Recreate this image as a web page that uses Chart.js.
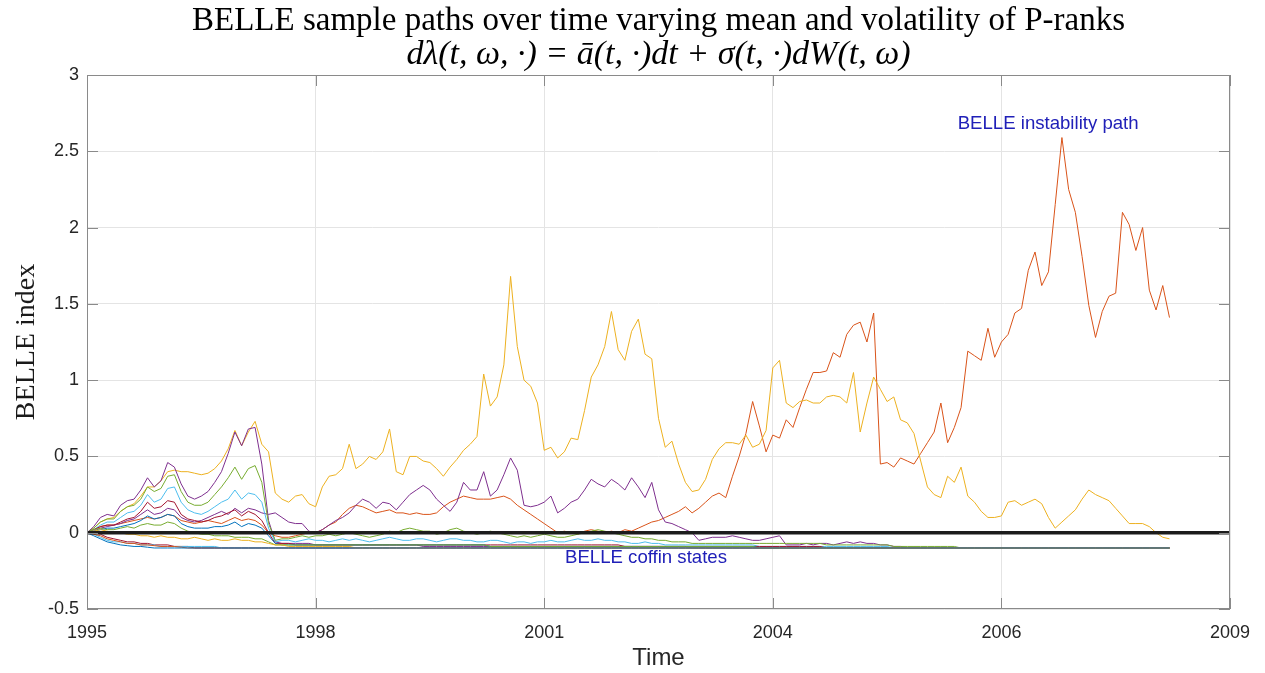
<!DOCTYPE html>
<html>
<head>
<meta charset="utf-8">
<script src="https://cdn.jsdelivr.net/npm/chart.js@4.4.0/dist/chart.umd.min.js"></script>
<style>
html,body{margin:0;padding:0;background:#fff;}
#wrap{width:1265px;height:673px;position:relative;}
</style>
</head>
<body>
<div id="wrap"><canvas id="c"></canvas></div>
<script>
// ---------- data ----------
const tickLabels = ['1995','1998','2001','2004','2006','2009'];
const axisMonths = 170;            // span of the time axis, in monthly steps
const yMin = -0.5, yMax = 3, yStep = 0.5;

const chartTitle = 'BELLE sample paths over time varying mean and volatility of P-ranks';
const chartFormula = 'd\u03BB(t, \u03C9, \u00B7) = \u0101(t, \u00B7)dt + \u03C3(t, \u00B7)dW(t, \u03C9)';
const xTitle = 'Time';
const yTitle = 'BELLE index';

// monthly sample paths (index 0..161)
const coffinBlue = [
0,-0.02,-0.04,-0.06,-0.07,-0.08,-0.085,-0.09,-0.09,-0.095,
-0.1,-0.1,-0.1,-0.1,-0.1,-0.1,-0.1,-0.1,-0.1,-0.1,
-0.1,-0.1,-0.1,-0.1,-0.1,-0.1,-0.1,-0.1,-0.1,-0.1,
-0.1,-0.1,-0.1,-0.1,-0.1,-0.1,-0.1,-0.1,-0.1,-0.1,
-0.1,-0.1,-0.1,-0.1,-0.1,-0.1,-0.1,-0.1,-0.1,-0.1,
-0.1,-0.1,-0.1,-0.1,-0.1,-0.1,-0.1,-0.1,-0.1,-0.1,
-0.1,-0.1,-0.1,-0.1,-0.1,-0.1,-0.1,-0.1,-0.1,-0.1,
-0.1,-0.1,-0.1,-0.1,-0.1,-0.1,-0.1,-0.1,-0.1,-0.1,
-0.1,-0.1,-0.1,-0.1,-0.1,-0.1,-0.1,-0.1,-0.1,-0.1,
-0.1,-0.1,-0.1,-0.1,-0.1,-0.1,-0.1,-0.1,-0.1,-0.1,
-0.1,-0.1,-0.1,-0.1,-0.1,-0.1,-0.1,-0.1,-0.1,-0.1,
-0.1,-0.1,-0.1,-0.1,-0.1,-0.1,-0.1,-0.1,-0.1,-0.1,
-0.1,-0.1,-0.1,-0.1,-0.1,-0.1,-0.1,-0.1,-0.1,-0.1,
-0.1,-0.1,-0.1,-0.1,-0.1,-0.1,-0.1,-0.1,-0.1,-0.1,
-0.1,-0.1,-0.1,-0.1,-0.1,-0.1,-0.1,-0.1,-0.1,-0.1,
-0.1,-0.1,-0.1,-0.1,-0.1,-0.1,-0.1,-0.1,-0.1,-0.1,
-0.1,-0.1];

const coffinOrange = [
0,-0.01,-0.02,-0.04,-0.05,-0.06,-0.07,-0.07,-0.08,-0.08,
-0.085,-0.09,-0.09,-0.09,-0.095,-0.1,-0.1,-0.1,-0.1,-0.1,
-0.1,-0.1,-0.1,-0.1,-0.1,-0.1,-0.1,-0.1,-0.1,-0.1,
-0.1,-0.1,-0.1,-0.1,-0.1,-0.1,-0.1,-0.1,-0.1,-0.1,
-0.1,-0.1,-0.1,-0.1,-0.1,-0.1,-0.1,-0.1,-0.1,-0.1,
-0.1,-0.1,-0.1,-0.1,-0.1,-0.1,-0.1,-0.1,-0.1,-0.1,
-0.1,-0.1,-0.1,-0.1,-0.1,-0.1,-0.1,-0.1,-0.1,-0.1,
-0.1,-0.1,-0.1,-0.1,-0.1,-0.1,-0.1,-0.1,-0.1,-0.1,
-0.1,-0.1,-0.1,-0.1,-0.1,-0.1,-0.1,-0.1,-0.1,-0.1,
-0.1,-0.1,-0.1,-0.1,-0.1,-0.1,-0.1,-0.1,-0.1,-0.1,
-0.1,-0.1,-0.1,-0.1,-0.1,-0.1,-0.1,-0.1,-0.1,-0.1,
-0.1,-0.1,-0.1,-0.1,-0.1,-0.1,-0.1,-0.1,-0.1,-0.1,
-0.1,-0.1,-0.1,-0.1,-0.1,-0.1,-0.1,-0.1,-0.1,-0.1,
-0.1,-0.1,-0.1,-0.1,-0.1,-0.1,-0.1,-0.1,-0.1,-0.1,
-0.1,-0.1,-0.1,-0.1,-0.1,-0.1,-0.1,-0.1,-0.1,-0.1,
-0.1,-0.1,-0.1,-0.1,-0.1,-0.1,-0.1,-0.1,-0.1,-0.1,
-0.1,-0.1];

const coffinYellow = [
0,0.01,0.02,0.01,0,0,-0.01,-0.01,-0.02,-0.02,
-0.03,-0.02,-0.03,-0.03,-0.04,-0.04,-0.03,-0.04,-0.05,-0.04,
-0.05,-0.05,-0.04,-0.05,-0.05,-0.06,-0.06,-0.07,-0.08,-0.08,
-0.09,-0.09,-0.09,-0.09,-0.09,-0.09,-0.09,-0.09,-0.09,-0.09,
-0.1,-0.1,-0.1,-0.1,-0.1,-0.1,-0.1,-0.1,-0.1,-0.1,
-0.1,-0.1,-0.1,-0.1,-0.1,-0.1,-0.1,-0.1,-0.1,-0.1,
-0.1,-0.1,-0.1,-0.1,-0.1,-0.1,-0.1,-0.1,-0.1,-0.1,
-0.1,-0.1,-0.1,-0.1,-0.1,-0.1,-0.1,-0.1,-0.1,-0.1,
-0.1,-0.1,-0.1,-0.1,-0.1,-0.1,-0.1,-0.1,-0.1,-0.1,
-0.1,-0.1,-0.1,-0.1,-0.1,-0.1,-0.1,-0.1,-0.1,-0.1,
-0.1,-0.1,-0.1,-0.1,-0.1,-0.1,-0.1,-0.1,-0.1,-0.1,
-0.1,-0.1,-0.1,-0.1,-0.1,-0.1,-0.1,-0.1,-0.1,-0.1,
-0.1,-0.1,-0.1,-0.1,-0.1,-0.1,-0.1,-0.1,-0.1,-0.1,
-0.1,-0.1,-0.1,-0.1,-0.1,-0.1,-0.1,-0.1,-0.1,-0.1,
-0.1,-0.1,-0.1,-0.1,-0.1,-0.1,-0.1,-0.1,-0.1,-0.1,
-0.1,-0.1,-0.1,-0.1,-0.1,-0.1,-0.1,-0.1,-0.1,-0.1,
-0.1,-0.1];

const coffinGreen = [
0,0.02,0.03,0.02,0.02,0.03,0.04,0.03,0.05,0.06,
0.05,0.05,0.07,0.06,0.03,0.01,0,-0.01,-0.01,-0.02,
-0.02,-0.02,-0.03,-0.03,-0.03,-0.04,-0.04,-0.06,-0.08,-0.08,
-0.08,-0.08,-0.08,-0.08,-0.08,-0.08,-0.08,-0.08,-0.08,-0.08,
-0.08,-0.08,-0.08,-0.08,-0.08,-0.08,-0.08,-0.08,-0.08,-0.08,
-0.08,-0.08,-0.08,-0.08,-0.08,-0.08,-0.08,-0.08,-0.08,-0.08,
-0.09,-0.09,-0.09,-0.09,-0.09,-0.09,-0.09,-0.09,-0.09,-0.09,
-0.09,-0.09,-0.09,-0.09,-0.09,-0.09,-0.09,-0.09,-0.09,-0.09,
-0.09,-0.09,-0.09,-0.09,-0.09,-0.09,-0.09,-0.09,-0.09,-0.09,
-0.09,-0.09,-0.09,-0.09,-0.09,-0.09,-0.09,-0.09,-0.09,-0.09,
-0.1,-0.1,-0.1,-0.1,-0.1,-0.1,-0.1,-0.1,-0.1,-0.1,
-0.1,-0.1,-0.1,-0.1,-0.1,-0.1,-0.1,-0.1,-0.1,-0.1,
-0.1,-0.1,-0.1,-0.1,-0.1,-0.1,-0.1,-0.1,-0.1,-0.1,
-0.1,-0.1,-0.1,-0.1,-0.1,-0.1,-0.1,-0.1,-0.1,-0.1,
-0.1,-0.1,-0.1,-0.1,-0.1,-0.1,-0.1,-0.1,-0.1,-0.1,
-0.1,-0.1,-0.1,-0.1,-0.1,-0.1,-0.1,-0.1,-0.1,-0.1,
-0.1,-0.1];

const coffinCyan = [
0,-0.01,-0.03,-0.05,-0.06,-0.06,-0.07,-0.07,-0.08,-0.08,
-0.08,-0.09,-0.09,-0.09,-0.09,-0.09,-0.09,-0.09,-0.09,-0.09,
-0.1,-0.1,-0.1,-0.1,-0.1,-0.1,-0.1,-0.1,-0.1,-0.1,
-0.1,-0.1,-0.1,-0.1,-0.1,-0.1,-0.1,-0.1,-0.1,-0.1,
-0.1,-0.1,-0.1,-0.1,-0.1,-0.1,-0.1,-0.1,-0.1,-0.1,
-0.1,-0.1,-0.1,-0.1,-0.1,-0.1,-0.1,-0.1,-0.1,-0.1,
-0.1,-0.1,-0.1,-0.1,-0.1,-0.1,-0.1,-0.1,-0.1,-0.1,
-0.1,-0.1,-0.1,-0.1,-0.1,-0.1,-0.1,-0.1,-0.1,-0.1,
-0.1,-0.1,-0.1,-0.1,-0.1,-0.1,-0.1,-0.1,-0.1,-0.1,
-0.1,-0.1,-0.1,-0.1,-0.1,-0.1,-0.1,-0.1,-0.1,-0.1,
-0.1,-0.1,-0.1,-0.1,-0.1,-0.1,-0.1,-0.1,-0.1,-0.1,
-0.1,-0.1,-0.1,-0.1,-0.1,-0.1,-0.1,-0.1,-0.1,-0.1,
-0.1,-0.1,-0.1,-0.1,-0.1,-0.1,-0.1,-0.1,-0.1,-0.1,
-0.1,-0.1,-0.1,-0.1,-0.1,-0.1,-0.1,-0.1,-0.1,-0.1,
-0.1,-0.1,-0.1,-0.1,-0.1,-0.1,-0.1,-0.1,-0.1,-0.1,
-0.1,-0.1,-0.1,-0.1,-0.1,-0.1,-0.1,-0.1,-0.1,-0.1,
-0.1,-0.1];

const coffinDarkRed = [
0,0,-0.01,-0.03,-0.04,-0.05,-0.06,-0.06,-0.07,-0.07,
-0.08,-0.08,-0.08,-0.09,-0.09,-0.09,-0.1,-0.1,-0.1,-0.1,
-0.1,-0.1,-0.1,-0.1,-0.1,-0.1,-0.1,-0.1,-0.1,-0.1,
-0.1,-0.1,-0.1,-0.1,-0.1,-0.1,-0.1,-0.1,-0.1,-0.1,
-0.1,-0.1,-0.1,-0.1,-0.1,-0.1,-0.1,-0.1,-0.1,-0.1,
-0.1,-0.1,-0.1,-0.1,-0.1,-0.1,-0.1,-0.1,-0.1,-0.1,
-0.1,-0.1,-0.1,-0.1,-0.1,-0.1,-0.1,-0.1,-0.1,-0.1,
-0.1,-0.1,-0.1,-0.1,-0.1,-0.1,-0.1,-0.1,-0.1,-0.1,
-0.1,-0.1,-0.1,-0.1,-0.1,-0.1,-0.1,-0.1,-0.1,-0.1,
-0.1,-0.1,-0.1,-0.1,-0.1,-0.1,-0.1,-0.1,-0.1,-0.1,
-0.1,-0.1,-0.1,-0.1,-0.1,-0.1,-0.1,-0.1,-0.1,-0.1,
-0.1,-0.1,-0.1,-0.1,-0.1,-0.1,-0.1,-0.1,-0.1,-0.1,
-0.1,-0.1,-0.1,-0.1,-0.1,-0.1,-0.1,-0.1,-0.1,-0.1,
-0.1,-0.1,-0.1,-0.1,-0.1,-0.1,-0.1,-0.1,-0.1,-0.1,
-0.1,-0.1,-0.1,-0.1,-0.1,-0.1,-0.1,-0.1,-0.1,-0.1,
-0.1,-0.1,-0.1,-0.1,-0.1,-0.1,-0.1,-0.1,-0.1,-0.1,
-0.1,-0.1];

const pathBlue = [
0,0.01,0.02,0.03,0.03,0.04,0.05,0.06,0.08,0.11,
0.09,0.1,0.12,0.11,0.06,0.04,0.03,0.03,0.03,0.04,
0.04,0.05,0.07,0.04,0.06,0.05,0.03,-0.02,-0.07,-0.08,
-0.08,-0.08,-0.08,-0.08,-0.08,-0.08,-0.08,-0.08,-0.08,-0.08,
-0.08,-0.08,-0.08,-0.08,-0.08,-0.08,-0.08,-0.08,-0.08,-0.08,
-0.08,-0.08,-0.08,-0.08,-0.08,-0.08,-0.08,-0.08,-0.08,-0.08,
-0.09,-0.09,-0.09,-0.09,-0.09,-0.09,-0.09,-0.09,-0.09,-0.09,
-0.09,-0.09,-0.09,-0.09,-0.09,-0.09,-0.09,-0.09,-0.09,-0.09,
-0.09,-0.09,-0.09,-0.09,-0.09,-0.09,-0.09,-0.09,-0.09,-0.09,
-0.09,-0.09,-0.09,-0.09,-0.09,-0.09,-0.09,-0.09,-0.09,-0.09,
-0.1,-0.1,-0.1,-0.1,-0.1,-0.1,-0.1,-0.1,-0.1,-0.1,
-0.1,-0.1,-0.1,-0.1,-0.1,-0.1,-0.1,-0.1,-0.1,-0.1,
-0.1,-0.1,-0.1,-0.1,-0.1,-0.1,-0.1,-0.1,-0.1,-0.1,
-0.1,-0.1,-0.1,-0.1,-0.1,-0.1,-0.1,-0.1,-0.1,-0.1,
-0.1,-0.1,-0.1,-0.1,-0.1,-0.1,-0.1,-0.1,-0.1,-0.1,
-0.1,-0.1,-0.1,-0.1,-0.1,-0.1,-0.1,-0.1,-0.1,-0.1,
-0.1,-0.1];

const pathDarkRed = [
0,0.02,0.04,0.05,0.05,0.07,0.09,0.1,0.14,0.2,
0.16,0.17,0.21,0.2,0.12,0.09,0.08,0.07,0.08,0.1,
0.11,0.13,0.15,0.11,0.14,0.12,0.08,0,-0.07,-0.07,
-0.07,-0.08,-0.08,-0.08,-0.08,-0.08,-0.08,-0.08,-0.08,-0.08,
-0.08,-0.08,-0.08,-0.08,-0.08,-0.08,-0.08,-0.08,-0.08,-0.08,
-0.08,-0.08,-0.08,-0.08,-0.08,-0.08,-0.08,-0.08,-0.08,-0.08,
-0.08,-0.08,-0.08,-0.08,-0.08,-0.08,-0.08,-0.08,-0.08,-0.08,
-0.08,-0.08,-0.08,-0.08,-0.08,-0.08,-0.08,-0.08,-0.08,-0.08,
-0.09,-0.09,-0.09,-0.09,-0.09,-0.09,-0.09,-0.09,-0.09,-0.09,
-0.09,-0.09,-0.09,-0.09,-0.09,-0.09,-0.09,-0.09,-0.09,-0.09,
-0.09,-0.09,-0.09,-0.09,-0.09,-0.09,-0.09,-0.09,-0.09,-0.09,
-0.1,-0.1,-0.1,-0.1,-0.1,-0.1,-0.1,-0.1,-0.1,-0.1,
-0.1,-0.1,-0.1,-0.1,-0.1,-0.1,-0.1,-0.1,-0.1,-0.1,
-0.1,-0.1,-0.1,-0.1,-0.1,-0.1,-0.1,-0.1,-0.1,-0.1,
-0.1,-0.1,-0.1,-0.1,-0.1,-0.1,-0.1,-0.1,-0.1,-0.1,
-0.1,-0.1,-0.1,-0.1,-0.1,-0.1,-0.1,-0.1,-0.1,-0.1,
-0.1,-0.1];

const pathCyan = [
0,0.02,0.05,0.07,0.07,0.1,0.13,0.14,0.18,0.25,
0.2,0.22,0.29,0.3,0.2,0.15,0.13,0.12,0.14,0.17,
0.2,0.22,0.28,0.22,0.26,0.25,0.2,0.03,-0.06,-0.05,
-0.05,-0.06,-0.05,-0.04,-0.05,-0.05,-0.06,-0.05,-0.04,-0.05,
-0.04,-0.05,-0.06,-0.05,-0.04,-0.03,-0.04,-0.05,-0.05,-0.04,
-0.04,-0.05,-0.06,-0.05,-0.04,-0.04,-0.05,-0.05,-0.06,-0.06,
-0.05,-0.05,-0.06,-0.07,-0.06,-0.06,-0.07,-0.06,-0.06,-0.05,
-0.06,-0.06,-0.05,-0.04,-0.05,-0.05,-0.04,-0.05,-0.05,-0.06,
-0.06,-0.07,-0.07,-0.06,-0.07,-0.07,-0.08,-0.08,-0.08,-0.08,
-0.08,-0.08,-0.08,-0.08,-0.08,-0.08,-0.08,-0.08,-0.08,-0.08,
-0.09,-0.09,-0.09,-0.09,-0.09,-0.09,-0.09,-0.09,-0.09,-0.09,
-0.09,-0.09,-0.09,-0.09,-0.09,-0.09,-0.09,-0.09,-0.09,-0.09,
-0.1,-0.1,-0.1,-0.1,-0.1,-0.1,-0.1,-0.1,-0.1,-0.1,
-0.1,-0.1,-0.1,-0.1,-0.1,-0.1,-0.1,-0.1,-0.1,-0.1,
-0.1,-0.1,-0.1,-0.1,-0.1,-0.1,-0.1,-0.1,-0.1,-0.1,
-0.1,-0.1,-0.1,-0.1,-0.1,-0.1,-0.1,-0.1,-0.1,-0.1,
-0.1,-0.1];

const pathGreen = [
0,0.03,0.07,0.09,0.09,0.14,0.17,0.18,0.22,0.3,
0.27,0.29,0.37,0.38,0.27,0.2,0.18,0.18,0.2,0.25,
0.3,0.36,0.43,0.35,0.42,0.44,0.33,0.06,-0.05,-0.04,
-0.04,-0.03,-0.02,-0.03,-0.02,-0.02,-0.01,-0.02,-0.01,0,
-0.01,-0.02,-0.03,-0.02,-0.01,0.01,0,0.02,0.03,0.02,
0.01,0.01,-0.01,0,0.02,0.03,0.01,0,-0.01,0,
0.01,0,-0.01,-0.02,-0.03,-0.02,-0.03,-0.02,-0.01,-0.02,
-0.03,-0.03,-0.02,-0.01,0,0.01,0.02,0.01,0,-0.01,
-0.02,-0.03,-0.03,-0.04,-0.04,-0.05,-0.05,-0.06,-0.06,-0.06,
-0.07,-0.07,-0.07,-0.07,-0.07,-0.07,-0.07,-0.07,-0.07,-0.07,
-0.07,-0.07,-0.07,-0.07,-0.07,-0.07,-0.07,-0.07,-0.07,-0.07,
-0.08,-0.08,-0.08,-0.08,-0.08,-0.08,-0.08,-0.08,-0.08,-0.08,
-0.09,-0.09,-0.09,-0.09,-0.09,-0.09,-0.09,-0.09,-0.09,-0.09,
-0.1,-0.1,-0.1,-0.1,-0.1,-0.1,-0.1,-0.1,-0.1,-0.1,
-0.1,-0.1,-0.1,-0.1,-0.1,-0.1,-0.1,-0.1,-0.1,-0.1,
-0.1,-0.1,-0.1,-0.1,-0.1,-0.1,-0.1,-0.1,-0.1,-0.1,
-0.1,-0.1];

const pathPurple = [
0,0.04,0.1,0.12,0.11,0.18,0.21,0.22,0.28,0.36,
0.3,0.34,0.46,0.43,0.32,0.24,0.22,0.24,0.27,0.33,
0.4,0.52,0.66,0.57,0.68,0.69,0.45,0.08,-0.06,-0.07,
-0.07,-0.07,-0.07,-0.07,-0.08,-0.08,-0.08,-0.08,-0.08,-0.08,
-0.08,-0.08,-0.08,-0.08,-0.08,-0.08,-0.08,-0.08,-0.08,-0.08,
-0.09,-0.09,-0.09,-0.09,-0.09,-0.09,-0.09,-0.09,-0.09,-0.09,
-0.09,-0.09,-0.09,-0.09,-0.09,-0.09,-0.09,-0.09,-0.09,-0.09,
-0.09,-0.09,-0.09,-0.09,-0.09,-0.09,-0.09,-0.09,-0.09,-0.09,
-0.09,-0.09,-0.09,-0.09,-0.09,-0.09,-0.09,-0.09,-0.09,-0.09,
-0.1,-0.1,-0.1,-0.1,-0.1,-0.1,-0.1,-0.1,-0.1,-0.1,
-0.1,-0.1,-0.1,-0.1,-0.1,-0.1,-0.1,-0.1,-0.1,-0.1,
-0.1,-0.1,-0.1,-0.1,-0.1,-0.1,-0.1,-0.1,-0.1,-0.1,
-0.1,-0.1,-0.1,-0.1,-0.1,-0.1,-0.1,-0.1,-0.1,-0.1,
-0.1,-0.1,-0.1,-0.1,-0.1,-0.1,-0.1,-0.1,-0.1,-0.1,
-0.1,-0.1,-0.1,-0.1,-0.1,-0.1,-0.1,-0.1,-0.1,-0.1,
-0.1,-0.1,-0.1,-0.1,-0.1,-0.1,-0.1,-0.1,-0.1,-0.1,
-0.1,-0.1];

const pathViolet = [
0,0.01,0.03,0.04,0.05,0.06,0.08,0.09,0.12,0.15,
0.12,0.13,0.16,0.15,0.1,0.08,0.07,0.08,0.1,0.12,
0.14,0.12,0.16,0.13,0.16,0.15,0.13,0.12,0.13,0.1,
0.07,0.06,0.06,0.01,0,0.02,0.05,0.08,0.1,0.13,
0.18,0.22,0.2,0.16,0.2,0.19,0.15,0.2,0.25,0.28,
0.31,0.28,0.22,0.18,0.14,0.2,0.33,0.28,0.28,0.4,
0.24,0.28,0.38,0.49,0.41,0.18,0.17,0.18,0.2,0.24,
0.13,0.16,0.2,0.22,0.28,0.35,0.32,0.3,0.35,0.32,
0.28,0.36,0.3,0.23,0.33,0.15,0.07,0.06,0.04,0.02,
0,-0.05,-0.04,-0.03,-0.03,-0.03,-0.02,-0.03,-0.04,-0.05,
-0.05,-0.04,-0.03,-0.02,-0.08,-0.08,-0.08,-0.07,-0.08,-0.07,
-0.07,-0.08,-0.07,-0.06,-0.07,-0.06,-0.07,-0.07,-0.08,-0.08,
-0.09,-0.09,-0.1,-0.1,-0.1,-0.1,-0.1,-0.1,-0.1,-0.1,
-0.1,-0.1,-0.1,-0.1,-0.1,-0.1,-0.1,-0.1,-0.1,-0.1,
-0.1,-0.1,-0.1,-0.1,-0.1,-0.1,-0.1,-0.1,-0.1,-0.1,
-0.1,-0.1,-0.1,-0.1,-0.1,-0.1,-0.1,-0.1,-0.1,-0.1,
-0.1,-0.1];

const yellowPath = [
0,0.03,0.07,0.09,0.1,0.14,0.17,0.19,0.24,0.3,
0.3,0.34,0.4,0.41,0.4,0.4,0.39,0.38,0.39,0.42,
0.47,0.55,0.67,0.57,0.66,0.73,0.58,0.53,0.26,0.22,
0.2,0.24,0.25,0.19,0.17,0.3,0.37,0.38,0.42,0.58,
0.42,0.45,0.5,0.48,0.53,0.68,0.4,0.38,0.5,0.5,
0.47,0.46,0.42,0.37,0.43,0.48,0.54,0.58,0.63,1.04,
0.83,0.89,1.1,1.68,1.22,1.0,0.96,0.85,0.54,0.56,
0.49,0.53,0.62,0.61,0.8,1.02,1.1,1.22,1.45,1.2,
1.13,1.32,1.4,1.17,1.14,0.75,0.56,0.6,0.45,0.33,
0.27,0.28,0.35,0.48,0.55,0.59,0.59,0.58,0.64,0.56,
0.58,0.67,1.08,1.13,0.85,0.82,0.86,0.87,0.85,0.85,
0.89,0.9,0.89,0.85,1.05,0.66,0.85,1.02,0.94,0.86,
0.89,0.74,0.72,0.65,0.47,0.3,0.25,0.23,0.37,0.33,
0.43,0.24,0.2,0.14,0.1,0.1,0.11,0.2,0.21,0.18,
0.2,0.22,0.19,0.1,0.03,0.07,0.11,0.15,0.22,0.28,
0.25,0.23,0.21,0.16,0.11,0.06,0.06,0.06,0.04,0,
-0.03,-0.04];

const redPath = [
0,0.02,0.04,0.05,0.05,0.06,0.07,0.08,0.09,0.1,
0.09,0.1,0.12,0.11,0.08,0.07,0.06,0.07,0.08,0.07,
0.06,0.08,0.1,0.08,0.09,0.08,0.05,0,-0.02,-0.03,
-0.03,-0.02,-0.01,0,0,0.02,0.05,0.07,0.12,0.16,
0.18,0.17,0.15,0.13,0.14,0.15,0.13,0.13,0.12,0.13,
0.12,0.12,0.13,0.17,0.2,0.22,0.24,0.23,0.22,0.22,
0.22,0.23,0.24,0.22,0.18,0.15,0.12,0.09,0.06,0.03,
0,0.01,0,-0.01,0.01,0.02,0.01,0,0.01,0,
0.02,0.01,0.03,0.05,0.07,0.08,0.1,0.12,0.14,0.17,
0.13,0.16,0.2,0.24,0.26,0.23,0.37,0.5,0.65,0.86,
0.7,0.53,0.64,0.62,0.74,0.69,0.82,0.94,1.05,1.05,
1.06,1.18,1.15,1.3,1.36,1.38,1.25,1.44,0.45,0.46,
0.43,0.49,0.47,0.45,0.52,0.59,0.66,0.85,0.59,0.69,
0.82,1.19,1.16,1.13,1.34,1.15,1.25,1.3,1.44,1.47,
1.72,1.84,1.62,1.71,2.15,2.59,2.25,2.1,1.81,1.49,
1.28,1.45,1.55,1.57,2.1,2.02,1.85,2.0,1.59,1.46,
1.62,1.41];

const annotations = [
  {text: 'BELLE instability path', month: 129.5, value: 2.68},
  {text: 'BELLE coffin states',    month: 71.1,  value: -0.166}
];

// ---------- styles ----------
const pathSeries = [coffinBlue, coffinOrange, coffinYellow, coffinGreen, coffinCyan, coffinDarkRed,
                    pathBlue, pathDarkRed, pathCyan, pathGreen, pathPurple, pathViolet, yellowPath, redPath];
const pathColors = ['#0072BD','#D95319','#EDB120','#77AC30','#4DBEEE','#A2142F',
                    '#0072BD','#A2142F','#4DBEEE','#77AC30','#7E2F8E','#7E2F8E','#EDB120','#D95319'];

const datasets = pathSeries.map((arr, k) => ({
  data: arr.map((v, i) => ({x: i, y: v})),
  borderColor: pathColors[k],
  borderWidth: 1,
  pointRadius: 0,
  tension: 0,
  fill: false
}));

const tickStep = axisMonths / (tickLabels.length - 1);

const framePlugin = {
  id: 'frame',
  afterDatasetsDraw(chart) {
    const {ctx, chartArea: a, scales: {x, y}} = chart;
    ctx.save();
    // zero reference line
    const y0 = y.getPixelForValue(0);
    ctx.strokeStyle = '#1c1c1c';
    ctx.lineWidth = 3.5;
    ctx.beginPath(); ctx.moveTo(a.left, y0); ctx.lineTo(a.right, y0); ctx.stroke();
    // box
    ctx.strokeStyle = '#8a8a8a';
    ctx.lineWidth = 1;
    ctx.strokeRect(a.left + 0.5, a.top + 0.5, a.right - a.left - 1, a.bottom - a.top - 1);
    // inner ticks
    const tl = 11;
    ctx.beginPath();
    x.ticks.forEach(t => {
      const px = Math.round(x.getPixelForValue(t.value)) + 0.5;
      ctx.moveTo(px, a.bottom); ctx.lineTo(px, a.bottom - tl);
      ctx.moveTo(px, a.top); ctx.lineTo(px, a.top + tl);
    });
    y.ticks.forEach(t => {
      const py = Math.round(y.getPixelForValue(t.value)) + 0.5;
      ctx.moveTo(a.left, py); ctx.lineTo(a.left + tl, py);
      ctx.moveTo(a.right, py); ctx.lineTo(a.right - tl, py);
    });
    ctx.stroke();
    // annotations
    ctx.fillStyle = '#2020b8';
    ctx.font = '18.6px "Liberation Sans", Arial, sans-serif';
    ctx.textAlign = 'left';
    ctx.textBaseline = 'middle';
    annotations.forEach(n => ctx.fillText(n.text, x.getPixelForValue(n.month), y.getPixelForValue(n.value)));
    ctx.restore();
  }
};

new Chart(document.getElementById('c'), {
  type: 'line',
  data: {datasets},
  plugins: [framePlugin],
  options: {
    responsive: true,
    maintainAspectRatio: false,
    animation: false,
    parsing: false,
    normalized: true,
    events: [],
    layout: {padding: {left: 0, right: 35, top: 0, bottom: 0}},
    plugins: {
      legend: {display: false},
      tooltip: {enabled: false},
      title: {
        display: true, text: chartTitle, fullSize: false, color: '#000',
        font: {family: '"Liberation Serif", "Times New Roman", serif', size: 33, weight: 'normal', lineHeight: 1},
        padding: {top: 5, bottom: 0}
      },
      subtitle: {
        display: true, text: chartFormula, fullSize: false, color: '#000',
        font: {family: '"Liberation Serif", "Times New Roman", serif', size: 34, style: 'italic', weight: 'normal', lineHeight: 1},
        padding: {top: 0, bottom: 3}
      }
    },
    scales: {
      x: {
        type: 'linear', min: 0, max: axisMonths,
        afterBuildTicks: s => { s.ticks = tickLabels.map((_, k) => ({value: k * tickStep})); },
        afterFit: s => { s.height = 64; },
        border: {display: false},
        grid: {color: '#e4e4e4', lineWidth: 1, drawTicks: false},
        ticks: {
          autoSkip: false, maxRotation: 0, padding: 13, color: '#262626',
          font: {family: '"Liberation Sans", Arial, sans-serif', size: 18},
          callback: v => tickLabels[Math.round(v / tickStep)]
        },
        title: {
          display: true, text: xTitle, color: '#262626',
          font: {family: '"Liberation Sans", Arial, sans-serif', size: 24},
          padding: {top: 0, bottom: 0}
        }
      },
      y: {
        type: 'linear', min: yMin, max: yMax,
        afterFit: s => { s.width = 87; },
        border: {display: false},
        grid: {color: '#e4e4e4', lineWidth: 1, drawTicks: false},
        ticks: {
          stepSize: yStep, padding: 8, color: '#262626',
          font: {family: '"Liberation Sans", Arial, sans-serif', size: 18},
          callback: v => String(Math.round(v * 10) / 10)
        },
        title: {
          display: true, text: yTitle, color: '#1a1a1a',
          font: {family: '"Liberation Serif", "Times New Roman", serif', size: 28},
          padding: {top: 10.2, bottom: 0}
        }
      }
    }
  }
});
</script>
</body>
</html>
